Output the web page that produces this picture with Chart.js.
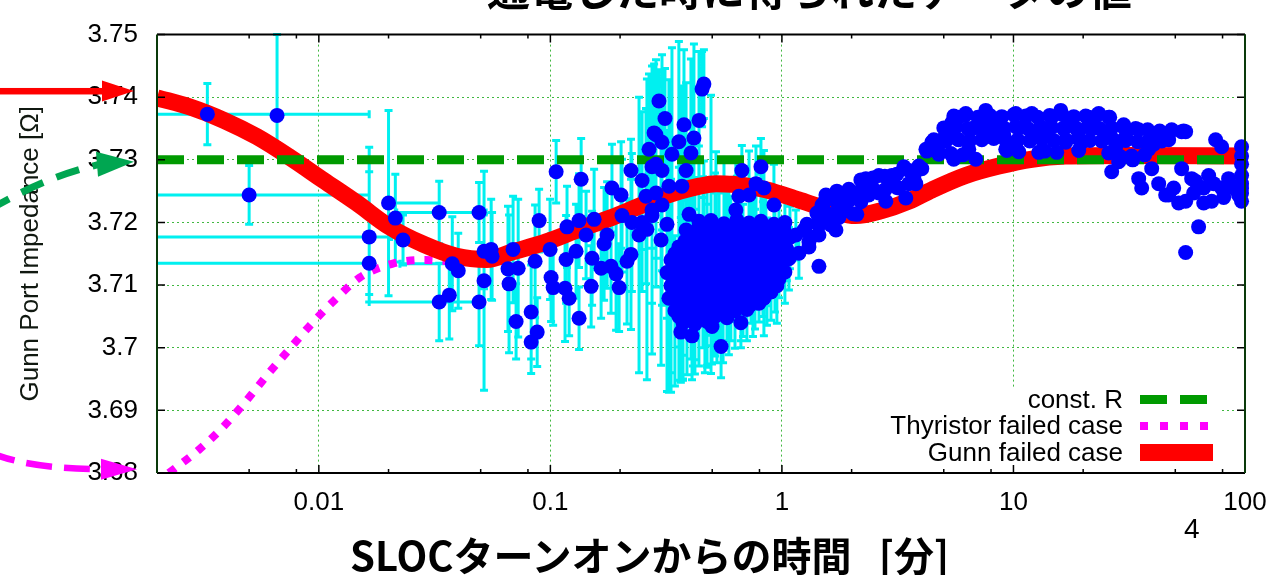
<!DOCTYPE html>
<html>
<head>
<meta charset="utf-8">
<title>Gunn Port Impedance</title>
<script src="https://cdn.jsdelivr.net/npm/chart.js@4.4.1/dist/chart.umd.min.js"></script>
<style>
html, body { margin: 0; padding: 0; background: #fff; }
#slide { position: relative; width: 1288px; height: 575px; overflow: hidden; }
#slide canvas { position: absolute; left: 0; top: 0; }
.slide-text { position: absolute; white-space: pre; line-height: 1; color: #000; }
#title { left: 487px; top: -44px; font: bold 43px "Noto Sans CJK JP", sans-serif; }
#xtitle { left: 350px; top: 525px; font: bold 40px "Noto Sans CJK JP", sans-serif; }
#pageno { left: 1184px; top: 513px; font: 28px "Liberation Sans", Arial, sans-serif; }
</style>
</head>
<body>
<div id="slide">
  <canvas id="impedance-chart" width="1288" height="575"></canvas>
  <div class="slide-text" id="title">通電した時に得られたデータの値</div>
  <div class="slide-text" id="xtitle">SLOCターンオンからの時間   [分]</div>
  <div class="slide-text" id="pageno">4</div>
</div>
<script>
// Axis ticks
const xTickValues = [0.01, 0.1, 1, 10, 100];
const xTickLabels = ['0.01', '0.1', '1', '10', '100'];
const xMinorSteps = [2, 5, 8];
const yTickValues = [3.68, 3.69, 3.70, 3.71, 3.72, 3.73, 3.74, 3.75];
const yTickLabels = ['3.68', '3.69', '3.7', '3.71', '3.72', '3.73', '3.74', '3.75'];

// Measured points with error bars (time [min], impedance [ohm], y error)
// an error given as [down, up] is asymmetric
const barTime = [
    // early points
    0.0033, 0.0066, 0.0050, 0.0165, 0.0165, 0.0200, 0.0214, 0.0231, 0.0331, 0.0377, 0.0400, 0.0331,
    0.0366, 0.0492, 0.0517, 0.0517, 0.0492,
    // 0.05 - 0.3
    0.0555, 0.0560, 0.0656, 0.0663, 0.0690, 0.0711, 0.0726, 0.0826, 0.0877, 0.0826,
    0.0894, 0.0859, 0.0997, 0.1059, 0.1007, 0.1028, 0.1157, 0.1205, 0.1180, 0.1330,
    0.1358, 0.1330, 0.1500, 0.1545, 0.1426, 0.1291, 0.1169, 0.1514, 0.1706, 0.1758,
    0.1656, 0.1828, 0.1922, 0.1981, 0.1845, 0.2020, 0.2229, 0.2039, 0.2249, 0.2143,
    0.2229, 0.2489, 0.2667, 0.2805, 0.2944, 0.2588, 0.2748, 0.2612, 0.2415, 0.2748, 0.2489,
    // 0.27 - 0.46, upper part
    0.3126, 0.2858, 0.3034, 0.3776, 0.4385, 0.4169, 0.3589, 0.3350, 0.4046, 0.4603, 0.4519,
    0.2858, 0.3034, 0.3855, 0.3251, 0.3698, 0.2858, 0.3034, 0.2748, 0.3189, 0.3006, 0.3972, 0.3855,
    // 0.6 - 1.9
    0.6715, 0.8117, 0.7727, 0.8363, 0.6517, 0.7211, 0.9236, 0.6324, 1.549, 1.763,
    1.908, 1.643, 1.445, 1.445, 1.308, 1.149, 1.184, 1.334,
    // dense cloud 0.3 - 1.1
    0.438, 0.494, 0.562, 0.639, 0.721, 0.812, 0.924, 1.030,
    0.409, 0.460, 0.519, 0.590, 0.665, 0.757, 0.853, 0.971, 1.083,
    0.359, 0.405, 0.456, 0.514, 0.579, 0.652, 0.735, 0.828, 0.933, 1.051,
    0.332, 0.374, 0.421, 0.475, 0.535, 0.602, 0.679, 0.765, 0.862, 0.971, 1.072,
    0.319, 0.359, 0.405, 0.456, 0.514, 0.579, 0.652, 0.735, 0.828, 0.933, 1.030,
    0.332, 0.374, 0.421, 0.475, 0.535, 0.602, 0.679, 0.765, 0.862, 0.951,
    0.325, 0.366, 0.413, 0.465, 0.524, 0.590, 0.665, 0.750, 0.836,
    0.345, 0.389, 0.438, 0.494, 0.557, 0.627, 0.706,
    0.374, 0.421, 0.475, 0.665,
    0.409, 0.366, 0.499, 0.546, 0.796, 0.897
];
const barZ = [
    3.7373, 3.7371, 3.7244, 3.7177, 3.7135, 3.7231, 3.7207, 3.7172, 3.7216, 3.7134, 3.7123, 3.7073,
    3.7084, 3.7216, 3.7154, 3.7107, 3.7073,
    3.7157, 3.7146, 3.7126, 3.7102, 3.7157, 3.7042, 3.7127, 3.7057, 3.7025, 3.7009,
    3.7203, 3.7138, 3.7157, 3.7281, 3.7112, 3.7096, 3.7095, 3.7079, 3.7193, 3.7203,
    3.7269, 3.7047, 3.7098, 3.7205, 3.7180, 3.7154, 3.7141, 3.7143, 3.7166, 3.7180,
    3.7127, 3.7130, 3.7118, 3.7096, 3.7255, 3.7244, 3.7283, 3.7211, 3.7200, 3.7138,
    3.7149, 3.7267, 3.7317, 3.7343, 3.7394, 3.7242, 3.7220, 3.7189, 3.7180, 3.7289, 3.7200,
    3.7366, 3.7340, 3.7328, 3.7356, 3.7363, 3.7335, 3.7329, 3.7309, 3.7311, 3.7421, 3.7413,
    3.7293, 3.7283, 3.7283, 3.7258, 3.7258, 3.7247, 3.7228, 3.7211, 3.7197, 3.7172, 3.7213, 3.7188,
    3.7283, 3.7289, 3.7262, 3.7255, 3.7242, 3.7244, 3.7228, 3.7220, 3.7244, 3.7228,
    3.7242, 3.7211, 3.7180, 3.7130, 3.7169, 3.7180, 3.7151, 3.7177,
    3.7202, 3.7203, 3.7198, 3.7204, 3.7199, 3.7202, 3.7197, 3.7200,
    3.7181, 3.7178, 3.7183, 3.7179, 3.7182, 3.7177, 3.7181, 3.7179, 3.7176,
    3.7161, 3.7158, 3.7163, 3.7159, 3.7161, 3.7157, 3.7162, 3.7158, 3.7160, 3.7157,
    3.7140, 3.7138, 3.7142, 3.7140, 3.7137, 3.7142, 3.7139, 3.7141, 3.7137, 3.7140, 3.7142,
    3.7120, 3.7118, 3.7122, 3.7120, 3.7117, 3.7121, 3.7122, 3.7119, 3.7120, 3.7117, 3.7121,
    3.7099, 3.7098, 3.7101, 3.7099, 3.7096, 3.7101, 3.7098, 3.7100, 3.7096, 3.7099,
    3.7079, 3.7078, 3.7081, 3.7080, 3.7076, 3.7079, 3.7081, 3.7078, 3.7079,
    3.7059, 3.7057, 3.7061, 3.7059, 3.7056, 3.7059, 3.7061,
    3.7040, 3.7038, 3.7042, 3.7040,
    3.7019, 3.7025, 3.7034, 3.7002, 3.7071, 3.7089
];
const barErr = [
    0.0049, [0.0044, 0.0129], 0.0047, 0.0104, [0.0050, 0.0185], 0.0148, 0.0070, 0.0040, 0.0050, 0.0075, 0.0060, 0.0062,
    0.0070, 0.0048, 0.0060, 0.0175, 0.0070,
    0.0080, 0.0070, 0.0100, 0.0110, 0.0085, 0.0060, 0.0110, 0.0075, 0.0055, 0.0050,
    0.0050, 0.0090, 0.0080, 0.0050, 0.0070, 0.0060, 0.0085, 0.0060, 0.0065, 0.0075,
    0.0065, 0.0050, 0.0065, 0.0080, 0.0070, 0.0075, 0.0070, 0.0075, 0.0090, 0.0085,
    0.0080, 0.0075, 0.0090, 0.0070, 0.0070, 0.0085, 0.0050, 0.0090, 0.0110, 0.0100,
    0.0120, 0.0110, 0.0120, 0.0110, 0.0050, 0.0140, 0.0230, 0.0240, 0.0220, 0.0130, 0.0110,
    0.0080, 0.0120, 0.0140, 0.0120, 0.0110, 0.0150, 0.0160, 0.0170, 0.0150, 0.0055, 0.0060,
    0.0150, 0.0160, 0.0140, 0.0170, 0.0160, 0.0150, 0.0160, 0.0140, 0.0150, 0.0200, 0.0120, 0.0120,
    0.0040, 0.0045, 0.0060, 0.0060, 0.0060, 0.0070, 0.0065, 0.0080, 0, 0,
    0, 0, 0, 0, 0, 0.0040, 0.0040, 0,
    0.012, 0.020, 0.010, 0.007, 0.007, 0.0075, 0.006, 0.004,
    0.014, 0.012, 0.013, 0.009, 0.008, 0.0085, 0.007, 0.006, 0.005,
    0.016, 0.013, 0.011, 0.012, 0.010, 0.009, 0.008, 0.0075, 0.006, 0.005,
    0.018, 0.015, 0.013, 0.012, 0.011, 0.010, 0.009, 0.008, 0.007, 0.006, 0.005,
    0.019, 0.017, 0.014, 0.012, 0.013, 0.011, 0.009, 0.008, 0.007, 0.006, 0.005,
    0.017, 0.015, 0.012, 0.013, 0.010, 0.009, 0.008, 0.007, 0.006, 0.006,
    0.015, 0.013, 0.011, 0.012, 0.010, 0.009, 0.007, 0.006, 0.006,
    0.012, 0.010, 0.009, 0.010, 0.008, 0.006, 0.005,
    0.009, 0.008, 0.007, 0.004,
    0.007, 0.008, 0.006, 0.005, 0.003, 0.0045
];
// time spans of the first points (null = open to the left / none)
const spanLow  = [null, null, null, null, null, 0.0197, null, null, 0.0217, 0.0224, null, 0.0165];
const spanHigh = [0.0165, null, 0.0165, 0.0206, 0.0165, 0.0331, null, null, 0.0528, 0.0377, null, 0.0510];

// Points whose error is hidden by the marker
const plainTime = [
    // inside the 0.3 - 1 cloud
    0.434, 0.489, 0.551, 0.628, 0.706, 0.804, 0.905, 1.020,
    0.381, 0.430, 0.484, 0.545, 0.614, 0.692, 0.780, 0.879, 0.990,
    0.345, 0.389, 0.438, 0.494, 0.556, 0.627, 0.706, 0.796, 0.897, 1.010,
    0.339, 0.381, 0.430, 0.484, 0.545, 0.614, 0.692, 0.780, 0.879, 0.990,
    0.339, 0.381, 0.430, 0.484, 0.545, 0.614, 0.692, 0.780, 0.879, 0.971,
    0.345, 0.389, 0.438, 0.494, 0.556, 0.627, 0.706, 0.796,
    0.356, 0.401, 0.452, 0.509, 0.573, 0.646, 0.728,
    0.359, 0.405, 0.456, 0.514, 0.579,
    // 1.2 - 60
    1.245, 1.308, 1.489, 1.445, 1.643, 1.711, 1.889, 1.945, 2.106, 2.305,
    2.371, 2.622, 2.811, 2.983, 3.198, 3.363, 3.428, 3.786, 4.018, 4.188,
    4.436, 4.906, 5.416, 5.806, 6.223, 6.412, 6.874, 7.590, 7.590, 8.646,
    9.261, 10.23, 10.23, 11.30, 12.00, 12.86, 13.25, 14.63, 16.00, 16.82,
    17.85, 19.71, 21.14, 23.35, 25.02, 25.78, 27.65, 28.47, 26.56, 30.54,
    32.42, 34.74, 35.80, 38.37, 39.54, 42.40, 45.43, 48.23, 53.25, 55.42,
    5.256, 5.806, 6.742, 7.820, 9.078, 10.54, 12.24, 14.21, 16.49, 19.13, 22.22,
    29.92, 34.74, 40.36, 46.81, 4.76, 5.52, 2.622, 2.15, 2.90, 3.713, 1.763,
    5.526, 6.224, 7.015, 7.903, 8.903, 10.03, 11.30, 12.73, 14.35, 16.16, 18.21, 20.51, 23.11, 26.04,
    5.004, 5.636, 6.350, 7.157, 8.063, 9.081, 10.23, 11.53, 12.99, 14.63, 16.49,
    18.58, 20.93, 23.58, 26.56, 29.92, 33.72, 37.98, 42.81, 48.23, 54.33,
    4.529, 5.105, 5.749, 6.477, 7.300, 8.222, 9.265, 10.44, 11.76, 13.25,
    14.93, 16.82, 18.95, 21.35, 24.05, 27.09, 30.53, 34.40, 38.75, 43.67,
    4.225, 4.761, 5.364, 6.041, 9.357, 10.54, 13.65, 15.38, 19.13, 25.78, 29.05, 32.73, 36.87,
    2.193, 2.471, 2.783, 3.135, 3.533, 3.902,
    1.727, 1.946, 2.193, 2.471, 2.783, 3.135, 3.533,
    1.533, 1.727, 1.946, 2.193,
    1.416, 1.595, 1.797, 2.025,
    1.282, 1.444, 1.627,
    // 40 - 100
    74.66, 79.25, 46.81, 55.42, 58.83, 69.65, 71.76, 79.25, 63.04, 55.42,
    93.80, 96.63, 96.63, 96.63, 96.63, 84.94, 53.25, 61.2, 45.43, 96.63,
    42.38, 49.2, 51.7, 60.0, 66.3, 66.3, 73.2, 80.9, 89.3, 96.63, 96.63, 96.63
];
const plainZ = [
    3.7190, 3.7192, 3.7189, 3.7191, 3.7188, 3.7190, 3.7192, 3.7189,
    3.7170, 3.7169, 3.7171, 3.7168, 3.7170, 3.7172, 3.7169, 3.7170, 3.7168,
    3.7150, 3.7151, 3.7149, 3.7150, 3.7152, 3.7149, 3.7150, 3.7151, 3.7148, 3.7150,
    3.7130, 3.7129, 3.7131, 3.7130, 3.7128, 3.7131, 3.7129, 3.7130, 3.7131, 3.7129,
    3.7110, 3.7111, 3.7109, 3.7110, 3.7112, 3.7109, 3.7110, 3.7111, 3.7108, 3.7110,
    3.7090, 3.7089, 3.7091, 3.7090, 3.7088, 3.7090, 3.7091, 3.7089,
    3.7069, 3.7070, 3.7068, 3.7069, 3.7071, 3.7069, 3.7068,
    3.7050, 3.7049, 3.7051, 3.7050, 3.7048,
    3.7188, 3.7161, 3.7228, 3.7208, 3.7197, 3.7188, 3.7219, 3.7250, 3.7213, 3.7270,
    3.7244, 3.7275, 3.7234, 3.7275, 3.7255, 3.7289, 3.7239, 3.7262, 3.7286, 3.7317,
    3.7328, 3.7332, 3.7359, 3.7368, 3.7374, 3.7317, 3.7301, 3.7379, 3.7337, 3.7363,
    3.7317, 3.7374, 3.7321, 3.7368, 3.7374, 3.7312, 3.7352, 3.7368, 3.7379, 3.7328,
    3.7359, 3.7328, 3.7368, 3.7374, 3.7337, 3.7368, 3.7321, 3.7297, 3.7281, 3.7337,
    3.7306, 3.7270, 3.7255, 3.7317, 3.7286, 3.7343, 3.7337, 3.7348, 3.7345, 3.7345,
    3.7340, 3.7332, 3.7351, 3.7356, 3.7340, 3.7351, 3.7340, 3.7348, 3.7351, 3.7345, 3.7351,
    3.7356, 3.7348, 3.7325, 3.7332, 3.7309, 3.7301, 3.7247, 3.7239, 3.7262, 3.7273, 3.7208,
    3.7370, 3.7372, 3.7368, 3.7371, 3.7369, 3.7372, 3.7370, 3.7368, 3.7371, 3.7373, 3.7369, 3.7370, 3.7372, 3.7368,
    3.7351, 3.7353, 3.7350, 3.7352, 3.7349, 3.7351, 3.7353, 3.7350, 3.7351, 3.7352, 3.7349,
    3.7351, 3.7353, 3.7350, 3.7351, 3.7352, 3.7350, 3.7348, 3.7346, 3.7347, 3.7346,
    3.7332, 3.7330, 3.7333, 3.7331, 3.7332, 3.7334, 3.7331, 3.7332, 3.7330, 3.7333,
    3.7331, 3.7332, 3.7334, 3.7331, 3.7330, 3.7332, 3.7331, 3.7329, 3.7333, 3.7330,
    3.7314, 3.7312, 3.7310, 3.7308, 3.7315, 3.7313, 3.7314, 3.7312, 3.7315, 3.7311, 3.7305, 3.7300, 3.7308,
    3.7268, 3.7271, 3.7274, 3.7277, 3.7283, 3.7290,
    3.7250, 3.7253, 3.7251, 3.7254, 3.7252, 3.7256, 3.7262,
    3.7234, 3.7232, 3.7235, 3.7233,
    3.7215, 3.7213, 3.7216, 3.7214,
    3.7197, 3.7195, 3.7196,
    3.7332, 3.7321, 3.7244, 3.7234, 3.7270, 3.7275, 3.7234, 3.7255, 3.7193, 3.7152,
    3.7244, 3.7306, 3.7275, 3.7321, 3.7234, 3.7270, 3.7286, 3.7266, 3.7244, 3.7255,
    3.7262, 3.7255, 3.7231, 3.7247, 3.7255, 3.7231, 3.7262, 3.7240, 3.7255, 3.7293, 3.7262, 3.7247
];

// Model curves
const constRTime = [0.002, 100];
const constRZ = [3.73, 3.73];
const gunnTime = [0.0020, 0.0028, 0.0039, 0.0054, 0.0075, 0.0105, 0.0146, 0.0202, 0.0284, 0.0394,
    0.0531, 0.0686, 0.0961, 0.133, 0.184, 0.235, 0.31, 0.44, 0.52, 0.61,
    0.86, 1.18, 1.64, 2.08, 2.70, 3.53, 4.44, 6.22, 8.65, 12.0, 16.8, 30, 100];
const gunnZ = [3.7399, 3.7384, 3.7363, 3.7337, 3.7304, 3.7267, 3.7231, 3.7193, 3.7165, 3.7146,
    3.7141, 3.7153, 3.7169, 3.7189, 3.7208, 3.7224, 3.7242, 3.7258, 3.7262, 3.7261,
    3.7252, 3.7236, 3.7219, 3.7211, 3.7219, 3.7234, 3.7252, 3.7275, 3.7290, 3.7301, 3.7306, 3.7307, 3.7306];
const thyTime = [0.00225, 0.00303, 0.00385, 0.0048, 0.0060, 0.00735, 0.00924, 0.0117, 0.0150, 0.0207,
    0.0287, 0.0333, 0.0394, 0.0531];
const thyZ = [3.6800, 3.6837, 3.6873, 3.6913, 3.6957, 3.6995, 3.7037, 3.7076, 3.7112, 3.7134,
    3.7140, 3.7139, 3.7138, 3.7138];

const colors = {
    points: '#0000ff',
    bars: '#00f0f0',
    constR: '#009a00',
    gunn: '#ff0000',
    thyristor: '#ff00ff',
    grid: 'rgba(0,160,0,0.75)',
    arrowGreen: '#00a651'
};
const tickFont = { family: '"Liberation Sans", Arial, sans-serif', size: 26 };

const toXY = (ts, zs) => ts.map((t, i) => ({ x: t, y: zs[i] }));

// cyan error bars, drawn under everything
const errorBars = {
    id: 'errorBars',
    beforeDatasetsDraw(chart) {
        const { ctx, chartArea: a, scales: { x, y } } = chart;
        ctx.save();
        ctx.beginPath();
        ctx.rect(a.left, a.top - 2, a.right - a.left, a.bottom - a.top + 4);
        ctx.clip();
        ctx.strokeStyle = colors.bars;
        ctx.lineWidth = 3;
        ctx.beginPath();
        barTime.forEach((t, i) => {
            const e = barErr[i];
            if (!e) return;
            const [dn, up] = Array.isArray(e) ? e : [e, e];
            const px = x.getPixelForValue(t);
            const y1 = y.getPixelForValue(barZ[i] - dn);
            const y2 = y.getPixelForValue(barZ[i] + up);
            ctx.moveTo(px, y1); ctx.lineTo(px, y2);
            ctx.moveTo(px - 4, y1); ctx.lineTo(px + 4, y1);
            ctx.moveTo(px - 4, y2); ctx.lineTo(px + 4, y2);
        });
        spanHigh.forEach((hi, i) => {
            if (hi === null) return;
            const lo = spanLow[i];
            const py = y.getPixelForValue(barZ[i]);
            const x1 = lo === null ? a.left - 5 : x.getPixelForValue(lo);
            const x2 = x.getPixelForValue(hi);
            ctx.moveTo(x1, py); ctx.lineTo(x2, py);
            if (lo !== null) { ctx.moveTo(x1, py - 4); ctx.lineTo(x1, py + 4); }
            ctx.moveTo(x2, py - 4); ctx.lineTo(x2, py + 4);
        });
        ctx.stroke();
        ctx.restore();
    }
};

// key box in the lower right corner
const keyBox = {
    id: 'keyBox',
    afterDatasetsDraw(chart) {
        const { ctx, chartArea: a } = chart;
        const rows = ['const. R', 'Thyristor failed case', 'Gunn failed case'];
        ctx.save();
        ctx.fillStyle = '#fff';
        ctx.fillRect(a.right - 462, a.bottom - 85, 439, 79);
        ctx.font = '26px "Liberation Sans", Arial, sans-serif';
        ctx.textAlign = 'right';
        ctx.textBaseline = 'middle';
        rows.forEach((label, i) => {
            const ds = chart.data.datasets.find(d => d.label === label);
            const yy = a.bottom - 73.5 + i * 26.5;
            ctx.fillStyle = '#000';
            ctx.fillText(label, a.right - 122, yy + 1);
            ctx.strokeStyle = ds.borderColor;
            ctx.lineWidth = ds.borderWidth;
            ctx.lineCap = 'butt';
            ctx.setLineDash(ds.keyDash || []);
            ctx.beginPath();
            ctx.moveTo(a.right - 105, yy);
            ctx.lineTo(a.right - 32, yy);
            ctx.stroke();
        });
        ctx.restore();
    }
};

// border and inward tick marks
const frame = {
    id: 'frame',
    afterDraw(chart) {
        const { ctx, chartArea: a, scales: { x, y } } = chart;
        ctx.save();
        ctx.lineWidth = 1.5;
        ctx.strokeStyle = '#000';
        ctx.beginPath();
        for (let d = 0.001; d < 200; d *= 10) {
            xMinorSteps.forEach(m => {
                const v = d * m;
                if (v <= x.min || v >= x.max) return;
                const px = x.getPixelForValue(v);
                ctx.moveTo(px, a.bottom); ctx.lineTo(px, a.bottom - 4);
                ctx.moveTo(px, a.top); ctx.lineTo(px, a.top + 4);
            });
        }
        xTickValues.forEach(v => {
            const px = x.getPixelForValue(v);
            ctx.moveTo(px, a.bottom); ctx.lineTo(px, a.bottom - 8);
            ctx.moveTo(px, a.top); ctx.lineTo(px, a.top + 8);
        });
        yTickValues.forEach(v => {
            const py = y.getPixelForValue(v);
            ctx.moveTo(a.left, py); ctx.lineTo(a.left + 8, py);
            ctx.moveTo(a.right, py); ctx.lineTo(a.right - 8, py);
        });
        ctx.stroke();
        ctx.lineWidth = 2;
        ctx.beginPath();
        ctx.moveTo(a.left, a.top); ctx.lineTo(a.right, a.top);
        ctx.moveTo(a.left, a.bottom); ctx.lineTo(a.right, a.bottom);
        ctx.stroke();
        ctx.strokeStyle = '#0a3a0a';
        ctx.beginPath();
        ctx.moveTo(a.left, a.top); ctx.lineTo(a.left, a.bottom);
        ctx.moveTo(a.right, a.top); ctx.lineTo(a.right, a.bottom);
        ctx.stroke();
        ctx.restore();
    }
};

// slide annotation arrows pointing at the axis values
const arrows = {
    id: 'arrows',
    afterDraw(chart) {
        const { ctx, chartArea: a, scales: { y } } = chart;
        const tipX = a.left - 23;
        const head = (tx, ty, len, half, color) => {
            ctx.fillStyle = color;
            ctx.beginPath();
            ctx.moveTo(tx, ty);
            ctx.lineTo(tx - len, ty - half);
            ctx.lineTo(tx - len, ty + half);
            ctx.closePath();
            ctx.fill();
        };
        ctx.save();
        // red: Gunn
        let ty = y.getPixelForValue(3.741);
        ctx.fillStyle = colors.gunn;
        ctx.fillRect(0, ty - 3, tipX - 30, 6.5);
        head(tipX, ty, 32, 10.5, colors.gunn);
        // green: const. R
        ty = y.getPixelForValue(3.7297);
        ctx.strokeStyle = colors.arrowGreen;
        ctx.lineWidth = 7;
        ctx.setLineDash([24, 14]);
        ctx.beginPath();
        ctx.moveTo(-12, ty + 49);
        ctx.quadraticCurveTo(45, ty + 15, tipX - 36, ty + 3);
        ctx.stroke();
        ctx.setLineDash([]);
        ctx.fillStyle = colors.arrowGreen;
        ctx.beginPath();
        ctx.moveTo(tipX, ty);
        ctx.lineTo(tipX - 38, ty - 10);
        ctx.lineTo(tipX - 36, ty + 15);
        ctx.closePath();
        ctx.fill();
        // magenta: thyristor
        ty = y.getPixelForValue(3.6806);
        ctx.strokeStyle = colors.thyristor;
        ctx.lineWidth = 6.5;
        ctx.setLineDash([26, 12]);
        ctx.beginPath();
        ctx.moveTo(-10, ty - 17);
        ctx.quadraticCurveTo(25, ty - 1, tipX - 34, ty);
        ctx.stroke();
        ctx.setLineDash([]);
        head(tipX + 3, ty, 36, 10.5, colors.thyristor);
        ctx.restore();
    }
};

document.addEventListener('DOMContentLoaded', function () {
    const ctx = document.getElementById('impedance-chart').getContext('2d');
    new Chart(ctx, {
        type: 'scatter',
        data: {
            datasets: [
                {
                    label: 'measured',
                    data: toXY(barTime, barZ).concat(toXY(plainTime, plainZ)),
                    pointRadius: 7.5,
                    pointHoverRadius: 7.5,
                    backgroundColor: colors.points,
                    borderWidth: 0,
                    clip: false,
                    order: 0
                },
                {
                    label: 'const. R',
                    type: 'line',
                    data: toXY(constRTime, constRZ),
                    borderColor: colors.constR,
                    borderWidth: 9,
                    borderDash: [27, 13],
                    keyDash: [27, 13],
                    borderCapStyle: 'butt',
                    pointRadius: 0,
                    clip: 0,
                    order: 1
                },
                {
                    label: 'Gunn failed case',
                    type: 'line',
                    data: toXY(gunnTime, gunnZ),
                    borderColor: colors.gunn,
                    borderWidth: 17,
                    borderCapStyle: 'butt',
                    borderJoinStyle: 'round',
                    cubicInterpolationMode: 'monotone',
                    pointRadius: 0,
                    clip: 0,
                    order: 2
                },
                {
                    label: 'Thyristor failed case',
                    type: 'line',
                    data: toXY(thyTime, thyZ),
                    borderColor: colors.thyristor,
                    borderWidth: 8,
                    borderDash: [8, 10],
                    keyDash: [8, 12],
                    borderCapStyle: 'butt',
                    cubicInterpolationMode: 'monotone',
                    pointRadius: 0,
                    clip: 0,
                    order: 3
                }
            ]
        },
        options: {
            responsive: false,
            animation: false,
            devicePixelRatio: 1,
            events: [],
            layout: { padding: { top: 22, right: 43, left: 0, bottom: 0 } },
            plugins: {
                legend: { display: false },
                tooltip: { enabled: false }
            },
            scales: {
                x: {
                    type: 'logarithmic',
                    min: 0.002,
                    max: 100,
                    afterBuildTicks: s => { s.ticks = xTickValues.map(v => ({ value: v })); },
                    afterFit: s => { s.height = 102; },
                    ticks: {
                        callback: (v, i) => xTickLabels[i],
                        font: tickFont,
                        color: '#000',
                        padding: 14,
                        maxRotation: 0,
                        autoSkip: false
                    },
                    grid: { color: colors.grid, lineWidth: 1, drawTicks: false },
                    border: { display: false, dash: [2, 3] }
                },
                y: {
                    min: 3.68,
                    max: 3.75,
                    afterBuildTicks: s => { s.ticks = yTickValues.map(v => ({ value: v })); },
                    afterFit: s => { s.width = 157; },
                    ticks: {
                        callback: (v, i) => yTickLabels[i],
                        font: tickFont,
                        color: '#000',
                        padding: 19
                    },
                    grid: { color: colors.grid, lineWidth: 1, drawTicks: false },
                    border: { display: false, dash: [2, 3] },
                    title: {
                        display: true,
                        text: 'Gunn Port Impedance [Ω]',
                        color: '#101810',
                        font: { family: '"Liberation Sans", Arial, sans-serif', size: 26 },
                        padding: { top: 15, bottom: 0 }
                    }
                }
            }
        },
        plugins: [errorBars, keyBox, frame, arrows]
    });
});
</script>
</body>
</html>
